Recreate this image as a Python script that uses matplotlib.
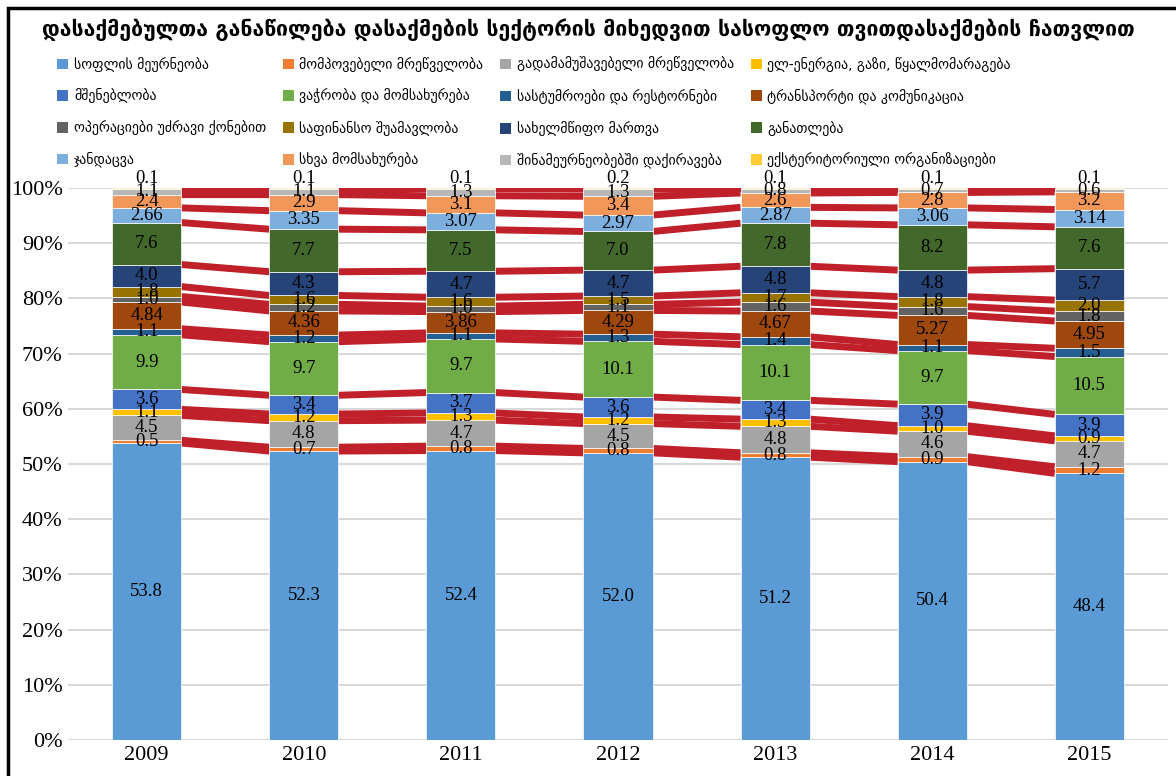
import numpy as np
import matplotlib
matplotlib.use("Agg")
import matplotlib.pyplot as plt
from matplotlib.patches import Rectangle, Patch

# საწყისი მონაცემები (%)
years = ["2009", "2010", "2011", "2012", "2013", "2014", "2015"]

sectors = [
    "სოფლის მეურნეობა",
    "მომპოვებელი მრეწველობა",
    "გადამამუშავებელი მრეწველობა",
    "ელ-ენერგია, გაზი, წყალმომარაგება",
    "მშენებლობა",
    "ვაჭრობა და მომსახურება",
    "სასტუმროები და რესტორნები",
    "ტრანსპორტი და კომუნიკაცია",
    "ოპერაციები უძრავი ქონებით",
    "საფინანსო შუამავლობა",
    "სახელმწიფო მართვა",
    "განათლება",
    "ჯანდაცვა",
    "სხვა მომსახურება",
    "შინამეურნეობებში დაქირავება",
    "ექსტერიტორიული ორგანიზაციები",
]

colors = ["#5B9BD5", "#ED7D31", "#A5A5A5", "#FFC000", "#4472C4", "#70AD47",
          "#255E91", "#9E480E", "#636363", "#997300", "#264478", "#43682B",
          "#7CAFDD", "#F1975A", "#B7B7B7", "#FFCD33"]

agriculture   = [53.8, 52.3, 52.4, 52.0, 51.2, 50.4, 48.4]
mining        = [0.5, 0.7, 0.8, 0.8, 0.8, 0.9, 1.2]
manufacturing = [4.5, 4.8, 4.7, 4.5, 4.8, 4.6, 4.7]
energy        = [1.1, 1.2, 1.3, 1.2, 1.3, 1.0, 0.9]
construction  = [3.6, 3.4, 3.7, 3.6, 3.4, 3.9, 3.9]
trade         = [9.9, 9.7, 9.7, 10.1, 10.1, 9.7, 10.5]
hotels        = [1.1, 1.2, 1.1, 1.3, 1.4, 1.1, 1.5]
transport     = [4.84, 4.36, 3.86, 4.29, 4.67, 5.27, 4.95]
real_estate   = [1.0, 1.2, 1.0, 1.1, 1.6, 1.6, 1.8]
finance       = [1.8, 1.6, 1.6, 1.5, 1.7, 1.8, 2.0]
public_admin  = [4.0, 4.3, 4.7, 4.7, 4.8, 4.8, 5.7]
education     = [7.6, 7.7, 7.5, 7.0, 7.8, 8.2, 7.6]
health        = [2.66, 3.35, 3.07, 2.97, 2.87, 3.06, 3.14]
other         = [2.4, 2.9, 3.1, 3.4, 2.6, 2.8, 3.2]
households    = [1.1, 1.1, 1.3, 1.3, 0.8, 0.7, 0.6]
extraterr     = [0.1, 0.1, 0.1, 0.2, 0.1, 0.1, 0.1]

series = [agriculture, mining, manufacturing, energy, construction, trade,
          hotels, transport, real_estate, finance, public_admin, education,
          health, other, households, extraterr]

data = np.array(series, dtype=float)
shares = data / data.sum(axis=0) * 100  # 100% stacked

geo_font = ["DejaVu Sans"]
num_font = ["Liberation Serif", "DejaVu Serif"]


def fmt(v):
    return f"{v:.1f}" if abs(round(v, 1) - v) < 1e-9 else f"{v:.2f}"


fig = plt.figure(figsize=(11.76, 7.76), dpi=100)
ax = fig.add_axes([0.058, 0.0464, 0.935, 0.7113])

x = np.arange(len(years))
w = 0.44
bottom = np.zeros(len(years))
tops = []
for i, (vals, c) in enumerate(zip(shares, colors)):
    ax.bar(x, vals, w, bottom=bottom, color=c, edgecolor="white",
           linewidth=0.5, zorder=3)
    for j in range(len(years)):
        dy = 7 if i == len(series) - 1 else 0
        ax.annotate(fmt(data[i, j]), (x[j], bottom[j] + vals[j] / 2),
                    xytext=(0, dy), textcoords="offset points",
                    ha="center", va="center", fontsize=13.5,
                    family=num_font, color="black", zorder=5)
    bottom = bottom + vals
    tops.append(bottom.copy())

# series lines between bars
for t in tops:
    for j in range(len(years) - 1):
        ax.plot([x[j] + w / 2, x[j + 1] - w / 2], [t[j], t[j + 1]],
                color="#C0202A", lw=5, solid_capstyle="butt", zorder=2)

ax.set_xlim(-0.5, len(years) - 0.5)
ax.set_ylim(0, 100)
ax.set_yticks(np.arange(0, 101, 10))
ax.set_yticklabels([f"{v}%" for v in range(0, 101, 10)], family=num_font,
                   fontsize=16)
ax.set_xticks(x)
ax.set_xticklabels(years, family=num_font, fontsize=16)
ax.tick_params(length=0, pad=4)
ax.grid(axis="y", color="#D9D9D9", lw=1.5, zorder=0)
for s in ax.spines.values():
    s.set_visible(False)

fig.text(0.5, 0.962, "დასაქმებულთა განაწილება დასაქმების სექტორის მიხედვით "
         "სასოფლო თვითდასაქმების ჩათვლით", ha="center", va="center",
         fontsize=15.3, fontweight="bold", family=geo_font)

# legend in row-major order
handles = [Patch(facecolor=c) for c in colors]
order = [(k % 4) * 4 + k // 4 for k in range(16)]
fig.legend([handles[k] for k in order], [sectors[k] for k in order],
           ncol=4, loc="upper left", bbox_to_anchor=(0.038, 0.943),
           frameon=False, prop={"family": geo_font, "size": 10},
           handlelength=0.8, handleheight=0.8, handletextpad=0.4,
           columnspacing=1.2, labelspacing=1.2)

fig.patches.append(Rectangle((0.007, -0.01), 1.1, 1.0, transform=fig.transFigure,
                             fill=False, edgecolor="black", lw=2.5))

fig.savefig("out.png", dpi=100)
